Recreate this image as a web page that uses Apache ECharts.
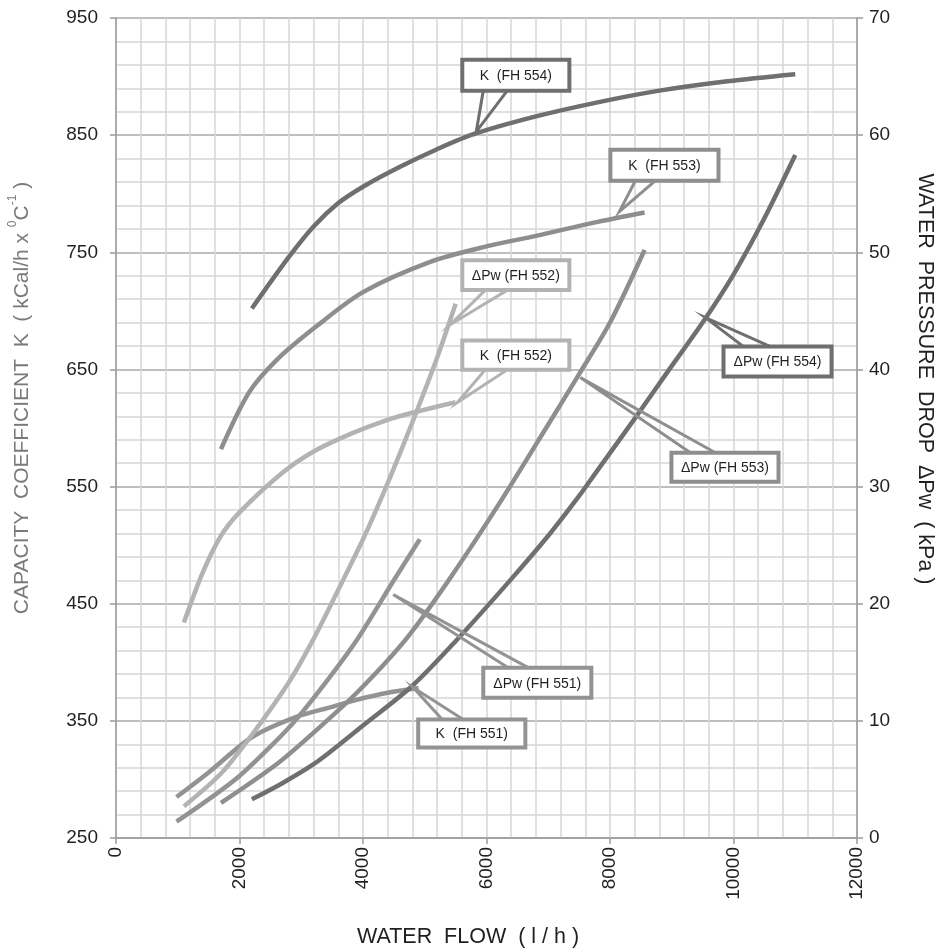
<!DOCTYPE html>
<html><head><meta charset="utf-8">
<script src="https://cdn.jsdelivr.net/npm/echarts@6/dist/echarts.min.js"></script>
<style>html,body{margin:0;padding:0;background:#fff}#c{width:943px;height:951px}</style>
</head><body><div id="c"></div>
<script>
// ---- Data (water flow l/h, value) ----
const seriesNames = ['K (FH 554)','K (FH 553)','K (FH 552)','K (FH 551)','ΔPw (FH 554)','ΔPw (FH 553)','ΔPw (FH 552)','ΔPw (FH 551)'];
const k554 = [[2200,702],[2800,746],[3200,772],[3600,792],[4000,806],[4600,823],[5200,838],[5800,851],[6800,866],[7800,878],[8800,888],[9900,896],[11000,902]];
const k553 = [[1700,582],[2150,630],[2600,658],[3250,687],[4000,716],[5100,742],[6000,755],[6800,764],[7800,776],[8560,784]];
const k552 = [[1100,434],[1400,476],[1700,508],[2000,528],[2700,562],[3200,580],[3800,595],[4400,607],[4800,613],[5500,622]];
const k551 = [[980,285],[1500,306],[2200,336],[2900,353],[3500,362],[3900,368],[4400,374],[4900,378]];
const dp554 = [[2200,3.3],[2700,4.7],[3200,6.3],[3600,7.9],[4000,9.6],[4800,13.0],[5500,16.8],[6400,22.1],[7000,25.8],[7500,29.2],[7800,31.4],[8400,35.8],[9000,40.3],[9500,44.0],[10000,48.1],[10500,52.9],[11000,58.3]];
const dp553 = [[1700,3.0],[2600,6.3],[3200,9.0],[3900,12.4],[4700,17.0],[5400,22.1],[6200,28.5],[7000,35.3],[7500,39.6],[8000,44.0],[8560,50.2]];
const dp552 = [[1100,2.7],[1700,5.5],[2200,8.8],[2800,13.3],[3200,17.0],[3600,21.2],[4000,25.5],[4400,30.3],[4800,35.5],[5200,41.0],[5500,45.6]];
const dp551 = [[980,1.4],[1500,3.3],[2000,5.3],[2500,7.8],[2900,10.0],[3400,13.3],[3900,16.9],[4500,22.0],[4920,25.5]];

// ---- Axes ----
const flowRange = [0, 12000, 2000];
const kRange = [250, 950, 100];
const dpRange = [0, 70, 10];

// ---- Callouts (data coords: x = flow, y = K axis) ----
const calloutText = ['K  (FH 554)','K  (FH 553)','ΔPw (FH 552)','K  (FH 552)','ΔPw (FH 554)','ΔPw (FH 553)','ΔPw (FH 551)','K  (FH 551)'];
const calloutSeries = [0,1,6,2,4,5,7,3];
const calloutTip = [[5834,853],[8152,784.7],[5413,688.2],[5527,621.7],[9546,694.2],[7520,643],[4489,457.8],[4813,378.4]];
const calloutBox = [[5608,914.4,7342,888.0],[8006,837.6,9757,811.1],[5608,743.3,7342,717.7],[5608,674.6,7342,649.8],[9838,669.5,11588,643.9],[8995,578.9,10729,554.1],[5948,395.4,7698,369.8],[4894,351.1,6629,327.2]];
const calloutBase = [[5948,6337],[8411,8736],[5980,6337],[5980,6337],[10162,10599],[9303,9708],[6353,6677],[5283,5624]];

const colors = ['#6f6f6f','#8e8e8e','#b3b3b3','#939393','#6f6f6f','#8e8e8e','#b3b3b3','#939393'];
const allData = [k554,k553,k552,k551,dp554,dp553,dp552,dp551];

const chart = echarts.init(document.getElementById('c'));
const FONT = 'Liberation Sans, Arial, sans-serif';
const option = {
  animation: false,
  backgroundColor: '#fff',
  grid: {left: 116, right: 86, top: 18, bottom: 113, containLabel: false, outerBoundsMode: 'none'},
  xAxis: {
    type: 'value', min: flowRange[0], max: flowRange[1], interval: flowRange[2],
    axisLine: {show: true, onZero: false, lineStyle: {color: '#9a9a9a', width: 1.5}},
    axisTick: {show: true, length: 6, lineStyle: {color: '#9a9a9a', width: 1.5}},
    axisLabel: {rotate: 90, margin: 9, fontFamily: FONT, fontSize: 19, color: '#231f20', formatter: v => String(v)},
    splitLine: {show: true, lineStyle: {color: '#d6d6d6', width: 1.5}},
    minorTick: {show: false, splitNumber: 5},
    minorSplitLine: {show: true, lineStyle: {color: '#d6d6d6', width: 1.5}}
  },
  yAxis: [{
    type: 'value', min: kRange[0], max: kRange[1], interval: kRange[2], position: 'left',
    axisLine: {show: true, lineStyle: {color: '#9a9a9a', width: 1.5}},
    axisTick: {show: true, length: 6, lineStyle: {color: '#9a9a9a', width: 1.5}},
    axisLabel: {margin: 18, fontFamily: FONT, fontSize: 19, color: '#231f20', formatter: v => String(v)},
    splitLine: {show: true, lineStyle: {color: '#a8a8a8', width: 1.5}},
    minorTick: {show: false, splitNumber: 5},
    minorSplitLine: {show: true, lineStyle: {color: '#d6d6d6', width: 1.5}}
  }, {
    type: 'value', min: dpRange[0], max: dpRange[1], interval: dpRange[2], position: 'right',
    axisLine: {show: true, lineStyle: {color: '#9a9a9a', width: 1.5}},
    axisTick: {show: true, length: 6, lineStyle: {color: '#9a9a9a', width: 1.5}},
    axisLabel: {margin: 12, fontFamily: FONT, fontSize: 19, color: '#231f20'},
    splitLine: {show: false}
  }],
  series: allData.map((d, i) => ({
    name: seriesNames[i], type: 'line', yAxisIndex: i < 4 ? 0 : 1,
    data: d, smooth: 0.3, showSymbol: false, symbol: 'none',
    lineStyle: {color: colors[i], width: 4.5, cap: 'butt'},
    z: 3
  }))
};
chart.setOption(option);

function px(p) { return chart.convertToPixel({xAxisIndex: 0, yAxisIndex: 0}, p); }
const graphics = [];
calloutText.forEach((t, i) => {
  const col = colors[calloutSeries[i]];
  const tl = px([calloutBox[i][0], calloutBox[i][1]]);
  const br = px([calloutBox[i][2], calloutBox[i][3]]);
  const tip = px(calloutTip[i]);
  const baseY = tip[1] < tl[1] ? tl[1] : br[1];
  const a = px([calloutBase[i][0], kRange[0]])[0];
  const b = px([calloutBase[i][1], kRange[0]])[0];
  graphics.push({type: 'polyline', z: 10, shape: {points: [[a, baseY], tip, [b, baseY]]},
    style: {stroke: col, lineWidth: 3, fill: null, lineJoin: 'miter'}});
  graphics.push({type: 'rect', z: 11, shape: {x: tl[0], y: tl[1], width: br[0]-tl[0], height: br[1]-tl[1]},
    style: {fill: '#fff', stroke: col, lineWidth: 4}});
  graphics.push({type: 'text', z: 12, style: {text: t, x: (tl[0]+br[0])/2, y: (tl[1]+br[1])/2 + 1,
    textAlign: 'center', textVerticalAlign: 'middle', font: '14px ' + FONT, fill: '#231f20'}});
});
graphics.push({type: 'text', z: 12, rotation: Math.PI/2, x: 20, y: 398,
  style: {text: '{a|CAPACITY  COEFFICIENT  K  ( kCal/h x }{s|0}{a|C}{s|-1}{a| )}',
    align: 'center', verticalAlign: 'middle',
    rich: {
      a: {fontFamily: FONT, fontSize: 21, fill: '#7a7a7a', lineHeight: 26, verticalAlign: 'bottom'},
      s: {fontFamily: FONT, fontSize: 12, fill: '#7a7a7a', lineHeight: 26, verticalAlign: 'top'}
    }}});
graphics.push({type: 'text', z: 12, rotation: -Math.PI/2, x: 925, y: 379,
  style: {text: 'WATER  PRESSURE  DROP  ΔPw  ( kPa )', align: 'center', verticalAlign: 'middle',
    font: '21.5px ' + FONT, fill: '#231f20'}});
graphics.push({type: 'text', z: 12, x: 468, y: 937,
  style: {text: 'WATER  FLOW  ( l / h )', align: 'center', verticalAlign: 'middle',
    font: '21.5px ' + FONT, fill: '#231f20'}});
chart.setOption({graphic: graphics});
</script>
</body></html>
